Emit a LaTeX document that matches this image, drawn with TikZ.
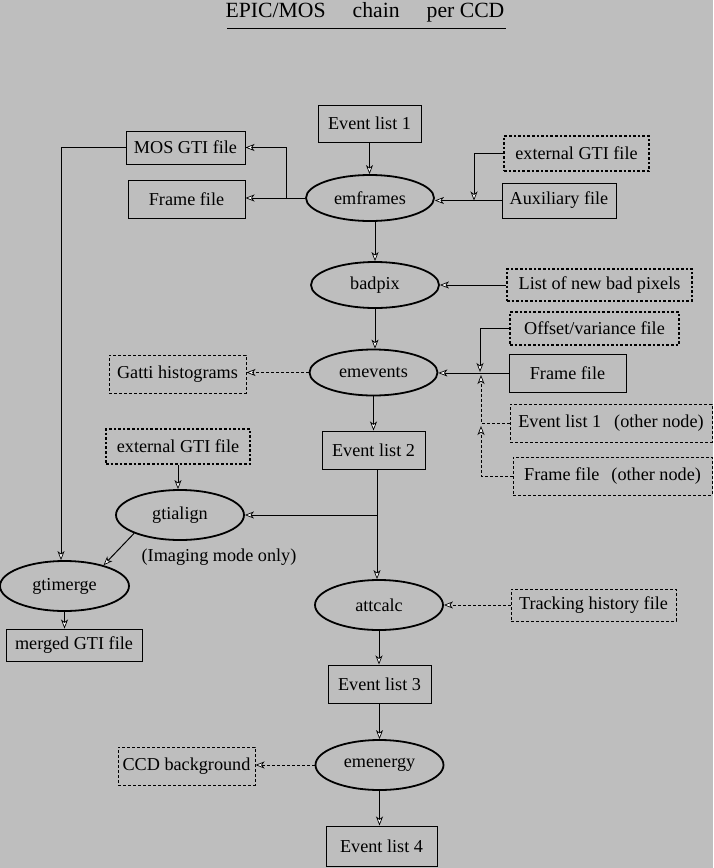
\documentclass[tikz,border=0pt]{standalone}
\usepackage{fontspec}
\setmainfont{Liberation Serif}
\usetikzlibrary{shapes.geometric,arrows.meta}
\definecolor{bg}{RGB}{190,190,190}
\begin{document}
\begin{tikzpicture}[x=1pt,y=-1pt,
  every node/.style={font=\fontsize{18.2}{22}\selectfont, inner sep=0pt},
  box/.style={draw, line width=1pt, rectangle},
  dbox/.style={draw, line width=1pt, dash pattern=on 3pt off 2pt},
  tbox/.style={draw, line width=2.6pt, dash pattern=on 2.6pt off 2pt},
  proc/.style={draw, ellipse, line width=1.8pt, minimum width=128pt, minimum height=46pt},
  arr/.style={line width=1pt, -{Stealth[length=9pt,width=7pt,inset=2.5pt,fill=white,line width=0.7pt]}},
  darr/.style={arr, dash pattern=on 3pt off 2pt},
  ln/.style={line width=1pt}]
\fill[bg] (0,0) rectangle (713,868);
\useasboundingbox (0,0) rectangle (713,868);

\node[anchor=base, font=\fontsize{21.7}{26}\selectfont] (title) at (365,17) {EPIC/MOS\hspace{27pt}chain\hspace{27pt}per CCD};
\draw[ln] (227,28) -- (506,28);

\node[box, minimum width=103, minimum height=37] (ev1) at (369.5,123.5) {Event list 1};
\node[box, minimum width=119, minimum height=33] (mosgti) at (185.5,147.5) {MOS GTI file};
\node[box, minimum width=117, minimum height=38] (frame1) at (186.5,199) {Frame file};
\node[proc] (emframes) at (370,198) {emframes};
\node[tbox, minimum width=145, minimum height=35] (extgti1) at (576.5,153.5) {external GTI file};
\node[box, minimum width=114, minimum height=35] (aux) at (559,200.5) {Auxiliary file};
\node[proc] (badpix) at (375,285) {badpix};
\node[tbox, minimum width=185, minimum height=32] (badpx) at (599.5,285) {List of new bad pixels};
\node[tbox, minimum width=169, minimum height=33] (offset) at (594.5,328.5) {Offset/variance file};
\node[box, minimum width=117, minimum height=38] (frame2) at (567.5,373) {Frame file};
\node[proc] (emevents) at (373.5,372.5) {emevents};
\node[dbox, minimum width=137, minimum height=38] (gatti) at (177.5,374) {Gatti histograms};
\node[dbox, minimum width=202, minimum height=38] (evother) at (611,423) {Event list 1\hspace{13pt}(other node)};
\node[dbox, minimum width=199, minimum height=38] (frother) at (612.5,476) {Frame file\hspace{12pt}(other node)};
\node[tbox, minimum width=144, minimum height=35] (extgti2) at (178,446.5) {external GTI file};
\node[box, minimum width=103, minimum height=38] (ev2) at (373.5,450) {Event list 2};
\node[proc, minimum height=50] (gtialign) at (180,515) {gtialign};
\node (imaging) at (219,557) {(Imaging mode only)};
\node[proc, minimum width=129, minimum height=50] (gtimerge) at (64.5,586) {gtimerge};
\node[box, minimum width=136, minimum height=32] (merged) at (74,645) {merged GTI file};
\node[proc, minimum height=50] (attcalc) at (379,605) {attcalc};
\node[dbox, minimum width=165, minimum height=32] (track) at (593.5,605) {Tracking history file};
\node[box, minimum width=103, minimum height=38] (ev3) at (379.5,684) {Event list 3};
\node[proc, minimum height=50] (emenergy) at (379.5,765) {emenergy};
\node[dbox, minimum width=137, minimum height=38] (ccd) at (186.5,766) {CCD background};
\node[box, minimum width=111, minimum height=40] (ev4) at (381.5,846) {Event list 4};

% emframes
\draw[arr] (ev1.south) -- (ev1.south |- emframes.north);
\draw[arr] (emframes.west) -- (emframes.west -| frame1.east);
\coordinate (j1) at (286,198);
\draw[arr] (emframes.west) -- (j1) |- (mosgti.east);
\coordinate (j2) at (474,200.5);
\draw[arr] (extgti1.west) -| (j2);
\draw[arr] (aux.west) -- (aux.west -| emframes.east);
\draw[arr] (emframes.south -| badpix.north) -- (badpix.north);
% badpix
\draw[arr] (badpx.west) -- (badpix.east);
\draw[arr] (badpix.south) -- (badpix.south |- emevents.north);
% emevents
\coordinate (j3) at (480,372);
\draw[arr] (offset.west) -| (j3);
\draw[arr] (frame2.west) -- (frame2.west -| emevents.east);
\coordinate (j4) at (481,375);
\draw[darr] (evother.west) -| (j4);
\coordinate (j5) at (481,426);
\draw[darr] (frother.west) -| (j5);
\draw[darr] (emevents.west) -- (emevents.west -| gatti.east);
\draw[arr] (emevents.south -| ev2.north) -- (ev2.north);
% gtialign / attcalc
\draw[arr] (extgti2.south) -- (extgti2.south |- gtialign.north);
\coordinate (j6) at (377,515);
\draw[ln] (ev2.south -| j6) -- (j6);
\draw[arr] (j6) -- (gtialign.east);
\draw[arr] (j6) -- (j6 |- attcalc.north);
\draw[arr] (mosgti.west) -| ([xshift=-3.5pt]gtimerge.north);
\draw[arr] (gtialign.south west) -- (gtimerge.28.7);
\draw[arr] (gtimerge.south) -- (gtimerge.south |- merged.north);
\draw[darr] (track.west) -- (track.west -| attcalc.east);
\draw[arr] (attcalc.south) -- (attcalc.south |- ev3.north);
% emenergy
\draw[arr] (ev3.south) -- (ev3.south |- emenergy.north);
\draw[darr] (emenergy.west) -- (emenergy.west -| ccd.east);
\draw[arr] (emenergy.south) -- (emenergy.south |- ev4.north);
\end{tikzpicture}
\end{document}
